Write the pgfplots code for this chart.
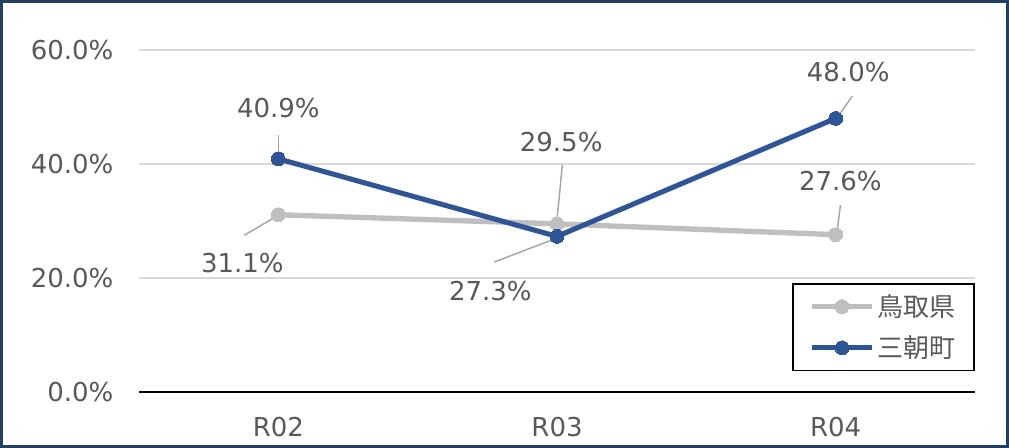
\documentclass[border=0pt]{standalone}
\usepackage{pgfplots}
\pgfplotsset{compat=1.18}
\usepackage{fontspec}
\setmainfont{DejaVu Sans}
\newfontfamily\cjk{Noto Sans CJK JP}

\definecolor{pref}{HTML}{BFBFBF}
\definecolor{town}{HTML}{2F5597}
\definecolor{txt}{HTML}{595959}
\definecolor{grd}{HTML}{D9D9D9}
\definecolor{frame}{HTML}{243F60}
\definecolor{lead}{HTML}{A6A6A6}

\begin{document}
\begin{tikzpicture}[x=0.75pt,y=0.75pt]
\useasboundingbox (-139,-56) rectangle (870,392);
\fill[white] (-139,-56) rectangle (870,392);
\draw[frame, line width=1.9pt] (-137.6,-54.6) rectangle (868.6,390.6);

\begin{axis}[
    at={(0,0)}, anchor=south west,
    scale only axis,
    width=627pt, height=256.5pt,
    xmin=-0.5, xmax=2.5,
    ymin=0, ymax=60,
    clip=false,
    axis line style={draw=none},
    xtick={0,1,2},
    xticklabels={R02,R03,R04},
    ytick={0,20,40,60},
    yticklabels={0.0\%,20.0\%,40.0\%,60.0\%},
    major tick length=0pt,
    tick style={draw=none},
    ymajorgrids,
    grid style={grd, line width=1.3pt},
    ticklabel style={font=\fontsize{19.5}{21}\selectfont, text=txt},
    yticklabel style={anchor=east, inner sep=0pt, xshift=-19pt},
    xticklabel style={anchor=north, inner sep=0pt, yshift=-19pt},
    legend style={at={(1,0.3187)}, anchor=north east,
        draw=black, line width=1.4pt,
        font=\cjk\fontsize{19.5}{21}\selectfont, text=txt,
        inner xsep=12pt, inner ysep=6pt,
        row sep=9pt},
    legend cell align=left,
    legend image code/.code={
        \draw[#1, mark repeat=2, mark phase=2]
            plot coordinates {(0pt,0pt) (22.5pt,0pt) (45pt,0pt)};
    },
]

% gridline at 0 drawn as the black base line
\draw[black, line width=1.6pt] (axis cs:-0.5,0) -- (axis cs:2.5,0);

\addplot[pref, line width=4pt, mark=*, mark size=5.2pt,
    mark options={fill=pref, draw=pref, line width=0pt}]
    coordinates {(0,31.1) (1,29.5) (2,27.6)};
\addlegendentry{鳥取県}

\addplot[town, line width=3.8pt, mark=*, mark size=5.2pt,
    mark options={fill=town, draw=town, line width=0pt}]
    coordinates {(0,40.9) (1,27.3) (2,48.0)};
\addlegendentry{三朝町}

% leader lines
\begin{scope}[lead, line width=1.1pt]
\draw (axis cs:0,45.1) -- (axis cs:0,41.6);
\draw (axis cs:-0.122,27.5) -- (axis cs:-0.011,30.7);
\draw (axis cs:1.019,39.8) -- (axis cs:1.0,30.2);
\draw (axis cs:0.775,22.8) -- (axis cs:0.983,26.7);
\draw (axis cs:2.06,51.9) -- (axis cs:2.006,48.2);
\draw (axis cs:2.017,32.8) -- (axis cs:2.006,28.4);
\end{scope}

% data labels
\begin{scope}[every node/.style={text=txt, font=\fontsize{19.5}{21}\selectfont, inner sep=0pt}]
\node at (axis cs:0,49.8) {40.9\%};
\node at (axis cs:-0.129,22.6) {31.1\%};
\node at (axis cs:1.015,43.9) {29.5\%};
\node at (axis cs:0.761,17.7) {27.3\%};
\node at (axis cs:2.045,56.1) {48.0\%};
\node at (axis cs:2.017,37.0) {27.6\%};
\end{scope}

\end{axis}
\end{tikzpicture}
\end{document}
